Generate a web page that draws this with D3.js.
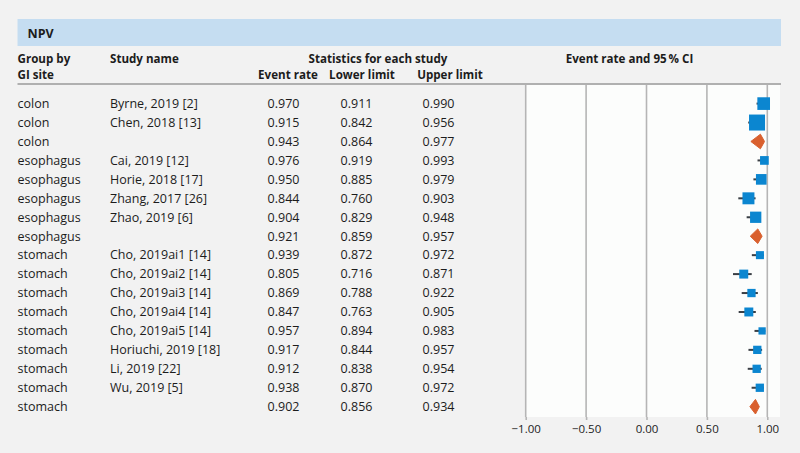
<!DOCTYPE html>
<html><head><meta charset="utf-8">
<script src="https://cdn.jsdelivr.net/npm/d3@7"></script>
<style>
html,body{margin:0;padding:0;background:#f2f2f2;}
svg{display:block;font-family:"Open Sans",sans-serif;}
</style></head>
<body><svg id="chart" width="800" height="453"></svg>
<script>
// ---- data ----
const title = "NPV";
const groups = ["colon","colon","colon","esophagus","esophagus","esophagus","esophagus","esophagus",
  "stomach","stomach","stomach","stomach","stomach","stomach","stomach","stomach","stomach"];
const studies = ["Byrne, 2019 [2]","Chen, 2018 [13]","","Cai, 2019 [12]","Horie, 2018 [17]","Zhang, 2017 [26]",
  "Zhao, 2019 [6]","","Cho, 2019ai1 [14]","Cho, 2019ai2 [14]","Cho, 2019ai3 [14]","Cho, 2019ai4 [14]",
  "Cho, 2019ai5 [14]","Horiuchi, 2019 [18]","Li, 2019 [22]","Wu, 2019 [5]",""];
const eventRates = [0.970,0.915,0.943,0.976,0.950,0.844,0.904,0.921,0.939,0.805,0.869,0.847,0.957,0.917,0.912,0.938,0.902];
const lowerLimits = [0.911,0.842,0.864,0.919,0.885,0.760,0.829,0.859,0.872,0.716,0.788,0.763,0.894,0.844,0.838,0.870,0.856];
const upperLimits = [0.990,0.956,0.977,0.993,0.979,0.903,0.948,0.957,0.972,0.871,0.922,0.905,0.983,0.957,0.954,0.972,0.934];
// relative weights (%); null = subgroup summary
const weights = [11.2,17.9,null,5.3,7.9,10.0,8.9,null,4.5,5.6,4.8,5.6,3.7,4.8,4.8,4.8,null];
const tickValues = [-1,-0.5,0,0.5,1];

// ---- layout ----
const svg = d3.select("#chart");
const textColor = "#1c1c1c";
const blue = "#0b86d0", orange = "#d9602e";
const xLeft = 525.7, xRight = 767.3, plotRight = 780, plotTop = 84, plotBottom = 417;

svg.append("rect").attr("width",800).attr("height",453).attr("fill","#f2f2f2");

// title band
svg.append("rect").attr("x",17.5).attr("y",19).attr("width",781-17.5).attr("height",27).attr("fill","#c5ddf1");
svg.append("text").attr("x",27.5).attr("y",37.5).attr("font-size",12.5).attr("font-weight","bold")
  .attr("fill",textColor).text(title);

// headers
const hdr = svg.append("g").attr("font-size",11.6).attr("font-weight","bold").attr("fill",textColor);
hdr.append("text").attr("x",17.5).attr("y",63).text("Group by");
hdr.append("text").attr("x",17.5).attr("y",79.3).text("GI site");
hdr.append("text").attr("x",110).attr("y",63).text("Study name");
hdr.append("text").attr("x",378).attr("y",63).attr("text-anchor","middle").text("Statistics for each study");
hdr.append("text").attr("x",288).attr("y",79.3).attr("text-anchor","middle").text("Event rate");
hdr.append("text").attr("x",362).attr("y",79.3).attr("text-anchor","middle").text("Lower limit");
hdr.append("text").attr("x",450).attr("y",79.3).attr("text-anchor","middle").text("Upper limit");
hdr.append("text").attr("x",629.5).attr("y",63).attr("text-anchor","middle").text("Event rate and 95\u2009% CI");

// scales
const x = d3.scaleLinear().domain([-1,1]).range([xLeft,xRight]);
const y = d3.scalePoint().domain(d3.range(groups.length)).range([103.6,406.7]);
const side = d3.scaleSqrt().domain([0,17.9]).range([0,16]);

// plot area
svg.append("rect").attr("x",xLeft).attr("y",plotTop).attr("width",plotRight-xLeft).attr("height",plotBottom-plotTop)
  .attr("fill","#fcfdfc");
svg.append("g").selectAll("line").data(tickValues).join("line")
  .attr("x1",d=>x(d)).attr("x2",d=>x(d)).attr("y1",plotTop).attr("y2",plotBottom)
  .attr("stroke","#b5b5b5").attr("stroke-width",1.6);

// header rule
svg.append("line").attr("x1",17.5).attr("x2",781).attr("y1",84).attr("y2",84)
  .attr("stroke","#b0b0b0").attr("stroke-width",1.8);

// axis
const axis = svg.append("g").attr("transform",`translate(0,${plotBottom})`)
  .call(d3.axisBottom(x).tickValues(tickValues).tickFormat(d3.format(".2f")).tickSize(3).tickPadding(5));
axis.select(".domain").remove();
axis.selectAll(".tick line").attr("stroke","#b5b5b5").attr("stroke-width",1.6);
axis.selectAll(".tick text").attr("font-family","Open Sans, sans-serif").attr("font-size",11.5).attr("fill",textColor);

// table rows
const rows = svg.append("g").attr("font-size",12.5).attr("fill",textColor);
const idx = d3.range(groups.length);
const fmt = d3.format(".3f");
rows.selectAll(".g").data(idx).join("text").attr("x",17.5).attr("y",i=>y(i)+4.3).text(i=>groups[i]);
rows.selectAll(".s").data(idx).join("text").attr("x",110).attr("y",i=>y(i)+4.3).text(i=>studies[i]);
rows.selectAll(".e").data(idx).join("text").attr("x",283.5).attr("y",i=>y(i)+4.3).attr("text-anchor","middle").text(i=>fmt(eventRates[i]));
rows.selectAll(".l").data(idx).join("text").attr("x",356.5).attr("y",i=>y(i)+4.3).attr("text-anchor","middle").text(i=>fmt(lowerLimits[i]));
rows.selectAll(".u").data(idx).join("text").attr("x",438.5).attr("y",i=>y(i)+4.3).attr("text-anchor","middle").text(i=>fmt(upperLimits[i]));

// marks
const study = idx.filter(i=>weights[i]!==null);
const summ = idx.filter(i=>weights[i]===null);
const marks = svg.append("g");
marks.selectAll(".ci").data(study).join("line")
  .attr("x1",i=>x(lowerLimits[i])).attr("x2",i=>x(upperLimits[i]))
  .attr("y1",i=>y(i)).attr("y2",i=>y(i)).attr("stroke","#3a3f45").attr("stroke-width",2);
marks.selectAll(".sq").data(study).join("rect")
  .attr("x",i=>x(eventRates[i])-side(weights[i])/2).attr("y",i=>y(i)-side(weights[i])/2)
  .attr("width",i=>side(weights[i])).attr("height",i=>side(weights[i])).attr("fill",blue);
marks.selectAll(".dm").data(summ).join("path")
  .attr("d",i=>{const c=y(i),h=7.3;return `M${x(lowerLimits[i])},${c}L${x(eventRates[i])},${c-h}L${x(upperLimits[i])},${c}L${x(eventRates[i])},${c+h}Z`;})
  .attr("fill",orange).attr("stroke",orange).attr("stroke-width",1).attr("stroke-linejoin","round");
</script></body></html>
